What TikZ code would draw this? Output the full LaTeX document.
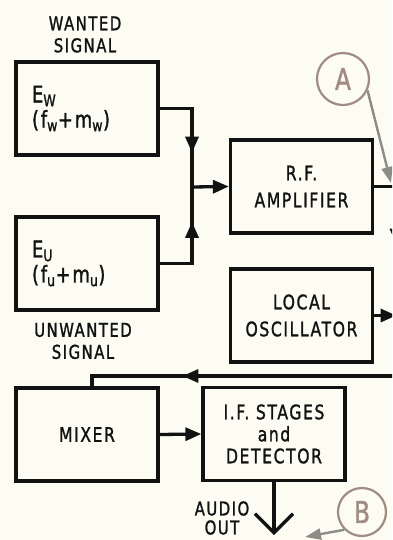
\documentclass[tikz,border=0pt]{standalone}
\usepackage{fontspec}
\setmainfont{DejaVu Sans}[FakeStretch=0.78,LetterSpace=8,FakeBold=1.3]
\usetikzlibrary{arrows.meta,decorations.markings}
\definecolor{ink}{HTML}{121212}
\definecolor{paper}{HTML}{FDFCF3}
\definecolor{tagbrown}{HTML}{A08C82}
\definecolor{aimgrey}{HTML}{8E8C86}
\begin{document}
\begin{tikzpicture}[x=1pt, y=-1pt, line width=3.3pt, ink,
    blk/.style={draw, minimum width=142pt, minimum height=93pt, align=center, font=\fontsize{20}{27}\selectfont},
    sig/.style={blk, align=left, text width=110pt, inner xsep=16pt, font=\fontsize{23}{25}\selectfont},
    lbl/.style={align=center, font=\fontsize{19}{22}\selectfont},
    feed/.style={-{Triangle[length=16pt,width=13pt]}},
    arrowat/.style={postaction=decorate, decoration={markings, mark=at position #1 with {\arrow{Triangle[length=16pt,width=13pt]}}}},
    tag/.style={circle, draw=tagbrown, line width=2.2pt, minimum size=#1, text=tagbrown, font=\fontsize{30}{30}\selectfont},
    aim/.style={aimgrey, line width=2.4pt, -{Triangle[length=16pt,width=11pt]}}]
  \useasboundingbox (0,0) rectangle (392,540);
  \clip (0,0) rectangle (392,540);
  \fill[paper] (0,0) rectangle (392,540);

  \node[lbl] (wanted) at (85,34.5) {WANTED\\SIGNAL};
  \node[sig] (ew) at (87,108.5) {E\textsubscript{W}\\(f\textsubscript{w}+m\textsubscript{w})};
  \node[sig] (eu) at (87,263.5) {E\textsubscript{U}\\(f\textsubscript{u}+m\textsubscript{u})};
  \node[lbl] (unwanted) at (83,341) {UNWANTED\\SIGNAL};
  \node[blk] (rf) at (301.5,186.5) {R.F.\\AMPLIFIER};
  \node[blk] (lo) at (301.5,315.5) {LOCAL\\OSCILLATOR};
  \node[blk] (mix) at (87,434.5) {MIXER};
  \node[blk, font=\fontsize{20}{22}\selectfont] (if) at (274,434) {I.F. STAGES\\and\\DETECTOR};
  \node[lbl, font=\fontsize{19}{19}\selectfont] (audio) at (222,518) {AUDIO\\OUT};
  \node[tag=52pt] (pa) at (343,79) {A};
  \node[tag=48pt] (pb) at (362,512) {B};

  \coordinate (jn) at (192,187);
  \coordinate (fb) at (396.5,376);
  \coordinate (aout) at (274,535);
  \coordinate (pahit) at (391,183);
  \coordinate (pbhit) at (305,537);

  \draw[arrowat=0.38] (rf.east) -| (fb);
  \draw[arrowat=0.69] (ew.east) -| (jn);
  \draw[arrowat=0.68] (eu.east) -| (jn);
  \draw[feed] (jn) -- (rf.west);
  \draw[feed] (lo.east) -- (lo.east -| fb);
  \draw[arrowat=0.68] (fb) -| ([xshift=5pt]mix.north);
  \draw[feed] (mix.east) -- (if.west);
  \draw[-{Straight Barb[length=19pt,width=38pt]}] (if.south) -- (aout);
  \draw[aim] (pa.-25) -- (pahit);
  \draw[aim] (pb.-135) -- (pbhit);
\end{tikzpicture}
\end{document}
